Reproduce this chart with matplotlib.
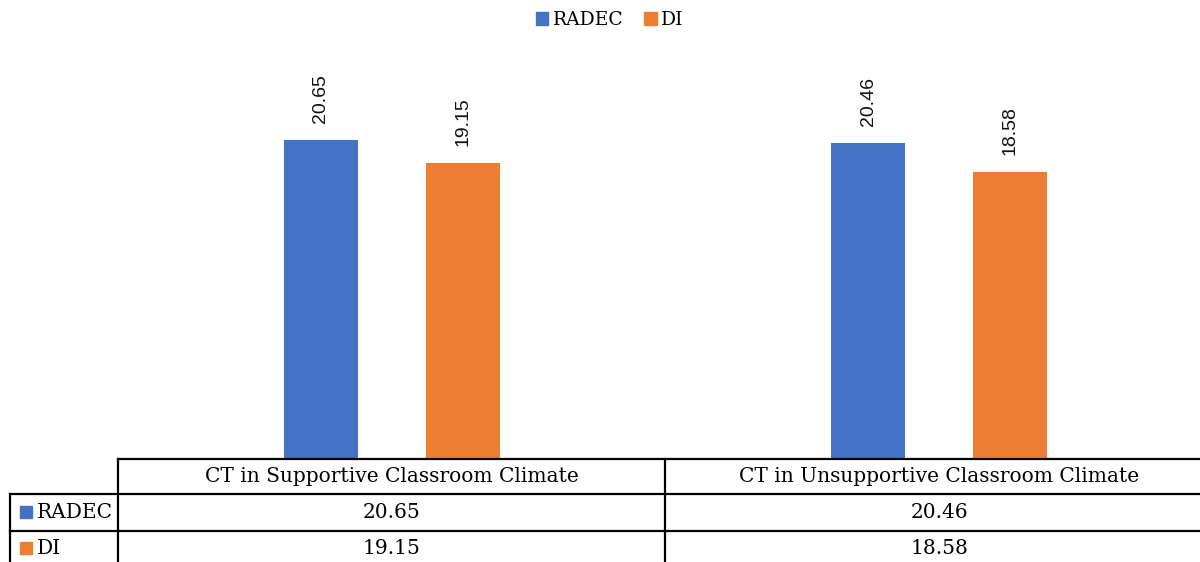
import matplotlib.pyplot as plt
from matplotlib.lines import Line2D
from matplotlib.patches import Rectangle

categories = ["CT in Supportive Classroom Climate", "CT in Unsupportive Classroom Climate"]
series_names = ["RADEC", "DI"]
radec = [20.65, 20.46]
di = [19.15, 18.58]
colors = ["#4472C4", "#ED7D31"]

W, H = 1200, 562
serif = "DejaVu Serif"
label_font = "Liberation Sans"


def fx(px):
    return px / W


def fy(py):
    return 1 - py / H


fig = plt.figure(figsize=(W / 100, H / 100), dpi=100)

# plot area: x from 118px to past the right edge, baseline at 458px
ax = fig.add_axes([fx(118), fy(458), fx(1213) - fx(118), fy(73) - fy(458)])
ax.set_xlim(-0.5, 1.5)
ax.set_ylim(0, 25)
ax.axis("off")

width = 0.135
offset = 0.13
for i, (name, vals, c) in enumerate(zip(series_names, [radec, di], colors)):
    xs = [k + (offset if i else -offset) for k in range(len(categories))]
    bars = ax.bar(xs, vals, width=width, color=c)
    for b, v in zip(bars, vals):
        ax.annotate(f"{v:.2f}", (b.get_x() + b.get_width() / 2, v),
                    xytext=(0, 12), textcoords="offset points",
                    rotation=90, ha="center", va="bottom",
                    fontsize=14, family=label_font, color="#111111")

# legend on top
handles = [Rectangle((0, 0), 1, 1, color=c) for c in colors]
fig.legend(handles, series_names, loc="center", bbox_to_anchor=(fx(610), fy(20)),
           ncol=2, frameon=False, handlelength=0.65, handleheight=0.65,
           handletextpad=0.25, columnspacing=1.1,
           prop={"family": serif, "size": 13.5})

# data table under the bars
lw = 1.6
rows_y = [459, 494, 531]


def hline(x0, x1, y):
    fig.add_artist(Line2D([fx(x0), fx(x1)], [fy(y), fy(y)], color="black", lw=lw))


def vline(x, y0, y1):
    fig.add_artist(Line2D([fx(x), fx(x)], [fy(y0), fy(y1)], color="black", lw=lw))


hline(118, 1230, rows_y[0])
hline(10, 1230, rows_y[1])
hline(10, 1230, rows_y[2])
vline(10, rows_y[1], 570)
vline(118, rows_y[0], 570)
vline(665, rows_y[0], 570)

table_size = 14.5
centers = [391.5, 939]
for cx, cat in zip(centers, categories):
    fig.text(fx(cx), fy(476), cat, ha="center", va="center", family=serif,
             fontsize=table_size)

row_mid = [512, 548]
for ry, name, vals, c in zip(row_mid, series_names, [radec, di], colors):
    fig.add_artist(Rectangle((fx(20), fy(ry + 6)), fx(12), fy(0) - fy(12),
                             color=c, transform=fig.transFigure))
    fig.text(fx(37), fy(ry), name, ha="left", va="center", family=serif,
             fontsize=table_size)
    for cx, v in zip(centers, vals):
        fig.text(fx(cx), fy(ry), f"{v:.2f}", ha="center", va="center",
                 family=serif, fontsize=table_size)

fig.savefig("out.png", dpi=100)
